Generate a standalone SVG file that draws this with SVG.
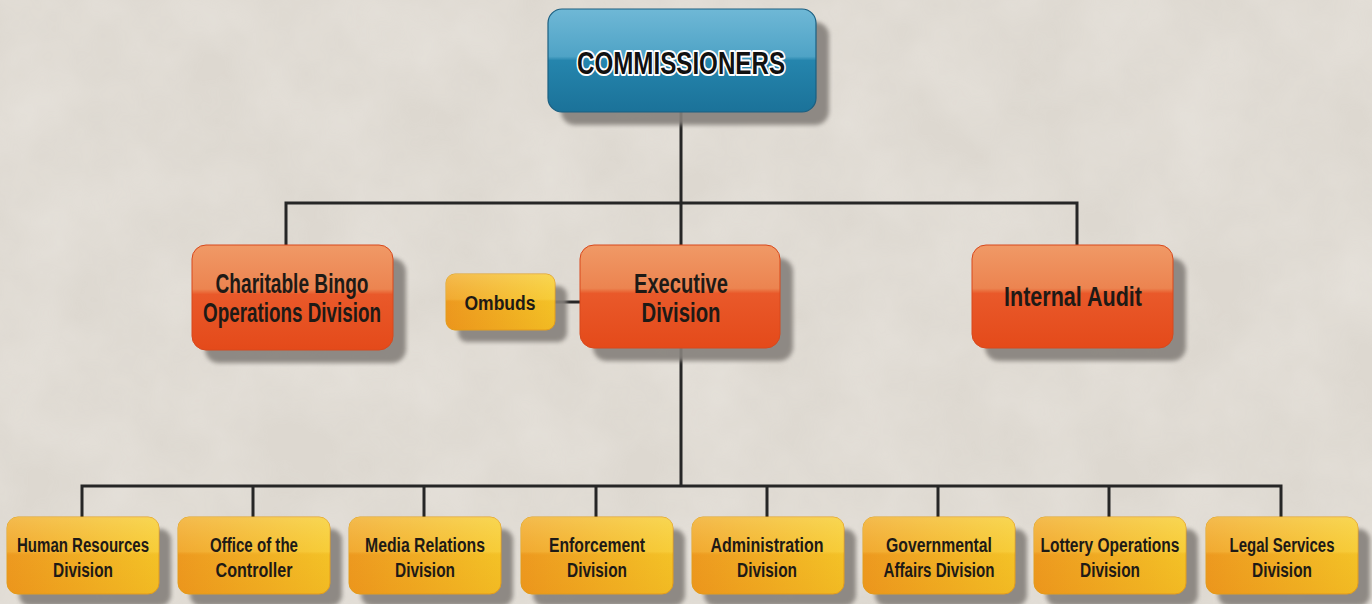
<svg xmlns="http://www.w3.org/2000/svg" width="1372" height="604" viewBox="0 0 1372 604">
<defs>
  <filter id="tex" x="0" y="0" width="100%" height="100%">
    <feTurbulence type="fractalNoise" baseFrequency="0.012" numOctaves="4" seed="3" result="n"/>
    <feColorMatrix in="n" type="matrix" values="0 0 0 0 0.89  0 0 0 0 0.86  0 0 0 0 0.82  0 0 0 0.9 -0.2"/>
  </filter>
  <filter id="sh" x="-10%" y="-10%" width="130%" height="140%">
    <feGaussianBlur stdDeviation="2.2"/>
  </filter>
  <linearGradient id="gBlue" x1="0" y1="0" x2="0" y2="1">
    <stop offset="0" stop-color="#6fb8d6"/>
    <stop offset="0.46" stop-color="#4fa3c6"/>
    <stop offset="0.5" stop-color="#2585ad"/>
    <stop offset="1" stop-color="#1b7299"/>
  </linearGradient>
  <linearGradient id="gOrange" x1="0" y1="0" x2="0" y2="1">
    <stop offset="0" stop-color="#f09966"/>
    <stop offset="0.42" stop-color="#ec8450"/>
    <stop offset="0.47" stop-color="#e9592a"/>
    <stop offset="1" stop-color="#e44a1a"/>
  </linearGradient>
  <linearGradient id="gYellowH" x1="0" y1="0" x2="1" y2="0">
    <stop offset="0" stop-color="#ee9c22"/>
    <stop offset="1" stop-color="#f5c82a"/>
  </linearGradient>
  <linearGradient id="gYellowGloss" x1="0" y1="0" x2="0" y2="1">
    <stop offset="0" stop-color="#fff3a0" stop-opacity="0.35"/>
    <stop offset="0.45" stop-color="#ffe070" stop-opacity="0.2"/>
    <stop offset="0.5" stop-color="#e07800" stop-opacity="0.08"/>
    <stop offset="1" stop-color="#e07800" stop-opacity="0.18"/>
  </linearGradient>
  <style>
    .shadow { fill: #86817c; opacity: 0.9; filter: url(#sh); }
    .blue { fill: url(#gBlue); stroke: #1c5f80; stroke-width: 1.2; }
    .orange { fill: url(#gOrange); stroke: #d8481c; stroke-width: 1; }
    .yellow { fill: url(#gYellowH); stroke: #e3a020; stroke-width: 1; }
    .ygloss { fill: url(#gYellowGloss); }
    .line { fill: none; stroke: #262626; stroke-width: 3; }
    .t { font-family: "Liberation Sans", Arial, sans-serif; font-weight: bold; fill: #1e1a16; text-anchor: middle; }
    .big { font-size: 27px; }
    .small { font-size: 20px; }
    .title { font-size: 32px; fill: #111; stroke: #ffffff; stroke-width: 4; paint-order: stroke; stroke-linejoin: round; }
  </style>
</defs>

<rect x="0" y="0" width="1372" height="604" fill="#ddd8d0"/>
<rect x="0" y="0" width="1372" height="604" filter="url(#tex)" opacity="0.6"/>

<g id="connectors">
  <path class="line" d="M681 112 V203 M286 245 V203 H1077 V245 M681 203 V245"/>
  <path class="line" d="M555 302 H580"/>
  <path class="line" d="M681 348 V486 M82 517 V486 H1281 V517 M253 486 V517 M424 486 V517 M596 486 V517 M767 486 V517 M938 486 V517 M1109 486 V517"/>
</g>

<g id="commissioners">
  <rect class="shadow" x="561" y="22" width="268" height="103" rx="14"/>
  <rect class="blue" x="548" y="9" width="268" height="103" rx="14"/>
  <text class="t title" x="681" y="74" textLength="208" lengthAdjust="spacingAndGlyphs">COMMISSIONERS</text>
</g>

<g id="charitable">
  <rect class="shadow" x="205" y="258" width="201" height="105" rx="14"/>
  <rect class="orange" x="192" y="245" width="201" height="105" rx="14"/>
  <text class="t big" x="292" y="293" textLength="153" lengthAdjust="spacingAndGlyphs">Charitable Bingo</text>
  <text class="t big" x="292" y="322" textLength="178" lengthAdjust="spacingAndGlyphs">Operations Division</text>
</g>

<g id="ombuds">
  <rect class="shadow" x="458" y="286" width="109" height="56" rx="9"/>
  <rect class="yellow" x="446" y="274" width="109" height="56" rx="9"/>
  <rect class="ygloss" x="446" y="274" width="109" height="56" rx="9"/>
  <text class="t small" x="500" y="310" textLength="71" lengthAdjust="spacingAndGlyphs">Ombuds</text>
</g>

<g id="executive">
  <rect class="shadow" x="593" y="258" width="200" height="103" rx="14"/>
  <rect class="orange" x="580" y="245" width="200" height="103" rx="14"/>
  <text class="t big" x="681" y="293" textLength="94" lengthAdjust="spacingAndGlyphs">Executive</text>
  <text class="t big" x="681" y="322" textLength="79" lengthAdjust="spacingAndGlyphs">Division</text>
</g>

<g id="internal-audit">
  <rect class="shadow" x="985" y="258" width="201" height="103" rx="14"/>
  <rect class="orange" x="972" y="245" width="201" height="103" rx="14"/>
  <text class="t big" x="1073" y="306" textLength="138" lengthAdjust="spacingAndGlyphs">Internal Audit</text>
</g>

<g id="human-resources">
  <rect class="shadow" x="19" y="529" width="152" height="77" rx="11"/>
  <rect class="yellow" x="7" y="517" width="152" height="77" rx="11"/>
  <rect class="ygloss" x="7" y="517" width="152" height="77" rx="11"/>
  <text class="t small" x="83" y="552" textLength="132" lengthAdjust="spacingAndGlyphs">Human Resources</text>
  <text class="t small" x="83" y="577" textLength="60" lengthAdjust="spacingAndGlyphs">Division</text>
</g>

<g id="controller">
  <rect class="shadow" x="190" y="529" width="152" height="77" rx="11"/>
  <rect class="yellow" x="178" y="517" width="152" height="77" rx="11"/>
  <rect class="ygloss" x="178" y="517" width="152" height="77" rx="11"/>
  <text class="t small" x="254" y="552" textLength="88" lengthAdjust="spacingAndGlyphs">Office of the</text>
  <text class="t small" x="254" y="577" textLength="77" lengthAdjust="spacingAndGlyphs">Controller</text>
</g>

<g id="media-relations">
  <rect class="shadow" x="361" y="529" width="152" height="77" rx="11"/>
  <rect class="yellow" x="349" y="517" width="152" height="77" rx="11"/>
  <rect class="ygloss" x="349" y="517" width="152" height="77" rx="11"/>
  <text class="t small" x="425" y="552" textLength="120" lengthAdjust="spacingAndGlyphs">Media Relations</text>
  <text class="t small" x="425" y="577" textLength="60" lengthAdjust="spacingAndGlyphs">Division</text>
</g>

<g id="enforcement">
  <rect class="shadow" x="533" y="529" width="152" height="77" rx="11"/>
  <rect class="yellow" x="521" y="517" width="152" height="77" rx="11"/>
  <rect class="ygloss" x="521" y="517" width="152" height="77" rx="11"/>
  <text class="t small" x="597" y="552" textLength="96" lengthAdjust="spacingAndGlyphs">Enforcement</text>
  <text class="t small" x="597" y="577" textLength="60" lengthAdjust="spacingAndGlyphs">Division</text>
</g>

<g id="administration">
  <rect class="shadow" x="704" y="529" width="152" height="77" rx="11"/>
  <rect class="yellow" x="692" y="517" width="152" height="77" rx="11"/>
  <rect class="ygloss" x="692" y="517" width="152" height="77" rx="11"/>
  <text class="t small" x="767" y="552" textLength="113" lengthAdjust="spacingAndGlyphs">Administration</text>
  <text class="t small" x="767" y="577" textLength="60" lengthAdjust="spacingAndGlyphs">Division</text>
</g>

<g id="governmental-affairs">
  <rect class="shadow" x="875" y="529" width="152" height="77" rx="11"/>
  <rect class="yellow" x="863" y="517" width="152" height="77" rx="11"/>
  <rect class="ygloss" x="863" y="517" width="152" height="77" rx="11"/>
  <text class="t small" x="939" y="552" textLength="106" lengthAdjust="spacingAndGlyphs">Governmental</text>
  <text class="t small" x="939" y="577" textLength="111" lengthAdjust="spacingAndGlyphs">Affairs Division</text>
</g>

<g id="lottery-operations">
  <rect class="shadow" x="1046" y="529" width="152" height="77" rx="11"/>
  <rect class="yellow" x="1034" y="517" width="152" height="77" rx="11"/>
  <rect class="ygloss" x="1034" y="517" width="152" height="77" rx="11"/>
  <text class="t small" x="1110" y="552" textLength="139" lengthAdjust="spacingAndGlyphs">Lottery Operations</text>
  <text class="t small" x="1110" y="577" textLength="60" lengthAdjust="spacingAndGlyphs">Division</text>
</g>

<g id="legal-services">
  <rect class="shadow" x="1218" y="529" width="152" height="77" rx="11"/>
  <rect class="yellow" x="1206" y="517" width="152" height="77" rx="11"/>
  <rect class="ygloss" x="1206" y="517" width="152" height="77" rx="11"/>
  <text class="t small" x="1282" y="552" textLength="105" lengthAdjust="spacingAndGlyphs">Legal Services</text>
  <text class="t small" x="1282" y="577" textLength="60" lengthAdjust="spacingAndGlyphs">Division</text>
</g>
</svg>
